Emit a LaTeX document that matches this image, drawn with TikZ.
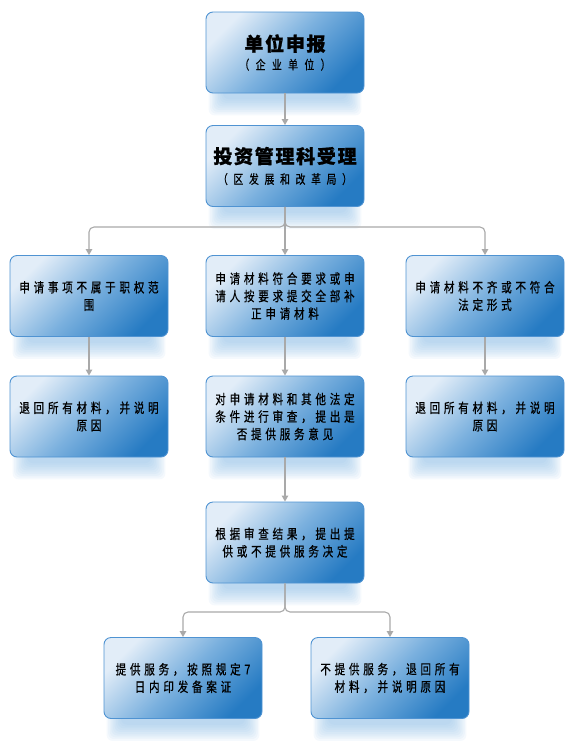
\documentclass[tikz,border=0pt]{standalone}
\usepackage{fontspec}
\setmainfont{Noto Sans CJK SC}
\newfontfamily\bodyfont[LetterSpace=28,FakeStretch=0.78,FakeBold=0.7]{Noto Sans CJK SC}
\newfontfamily\headfont[LetterSpace=9,FakeBold=1]{Noto Sans CJK SC}
\usetikzlibrary{arrows.meta,calc,backgrounds}

\definecolor{boxlight}{HTML}{E2EDF8}
\definecolor{boxmid}{HTML}{7AB0DE}
\definecolor{boxdark}{HTML}{267BC3}
\definecolor{boxline}{HTML}{4F93D2}
\definecolor{connc}{HTML}{A9A9A9}
\definecolor{shadeblue}{HTML}{8FBEE6}

\tikzset{
  box/.style={draw=boxline, line width=0.9pt, rounded corners=7pt,
    minimum width=158pt, minimum height=81pt, inner sep=2pt, align=center,
    top color=boxlight, bottom color=boxdark, middle color=boxmid, shading angle=45,
    font=\bodyfont\fontsize{13.5}{17.5}\selectfont},
  conn/.style={draw=connc, line width=1.1pt, -{Triangle[width=6.5pt,length=6pt]}},
}
\newcommand\headtext[1]{{\headfont\bfseries\fontsize{19}{22}\selectfont #1}}
% spaced-out subtitle line: #1 = total width, #2 = characters separated by \hfill
\newcommand\subtext[2]{{\bodyfont\fontsize{12.6}{14}\selectfont\makebox[#1][s]{#2}}}

% soft blue glow under a box
\newcommand\dropshade[1]{%
  \foreach \k in {0,...,9}{%
    \fill[shadeblue, opacity=0.085, rounded corners=6pt]
      ($(#1.south west)+(3+1.6*\k,-25)$) rectangle ($(#1.south east)+(-3-1.6*\k,22-1.8*\k)$);
  }}

\begin{document}
\begin{tikzpicture}[x=1pt,y=-1pt]
\useasboundingbox (0,0) rectangle (576,756);

% application and acceptance
\node[box] (b1) at (285,52.5)
  {\headtext{单位申报}\\[1pt]\subtext{91pt}{（\hfill 企\hfill 业\hfill 单\hfill 位\hfill ）}};
\node[box] (b2) at (285,166)
  {\headtext{投资管理科受理}\\[3pt]\subtext{134pt}{（\hfill 区\hfill 发\hfill 展\hfill 和\hfill 改\hfill 革\hfill 局\hfill ）}};

% three review outcomes
\node[box] (b3L) at (89,296)  {申请事项不属于职权范\\围};
\node[box] (b3C) at (285,296) {申请材料符合要求或申\\请人按要求提交全部补\\正申请材料};
\node[box] (b3R) at (485,296) {申请材料不齐或不符合\\法定形式};

\node[box] (b4L) at (89,416.5)  {退回所有材料，并说明\\原因};
\node[box] (b4C) at (285,416.5) {对申请材料和其他法定\\条件进行审查，提出是\\否提供服务意见};
\node[box] (b4R) at (485,416.5) {退回所有材料，并说明\\原因};

% decision
\node[box] (b5) at (285,542.5) {根据审查结果，提出提\\供或不提供服务决定};
\node[box] (b6L) at (183,678) {提供服务，按照规定7\\日内印发备案证};
\node[box] (b6R) at (390,678) {不提供服务，退回所有\\材料，并说明原因};

\begin{pgfonlayer}{background}
  \foreach \n in {b1,b2,b3L,b3C,b3R,b4L,b4C,b4R,b5,b6L,b6R}{\dropshade{\n}}
\end{pgfonlayer}

% connectors
\coordinate (s1) at (285,227);
\coordinate (s2) at (285,612);
\draw[conn] (b1) -- (b2);
\draw[conn, rounded corners=5pt] (b2.south) -- (s1) -| (b3L.north);
\draw[conn, rounded corners=5pt] (b2.south) -- (s1) -| (b3R.north);
\draw[conn] (b2) -- (b3C);
\draw[conn] (b3L) -- (b4L);
\draw[conn] (b3C) -- (b4C);
\draw[conn] (b3R) -- (b4R);
\draw[conn] (b4C) -- (b5);
\draw[conn, rounded corners=5pt] (b5.south) -- (s2) -| (b6L.north);
\draw[conn, rounded corners=5pt] (b5.south) -- (s2) -| (b6R.north);
\end{tikzpicture}
\end{document}
